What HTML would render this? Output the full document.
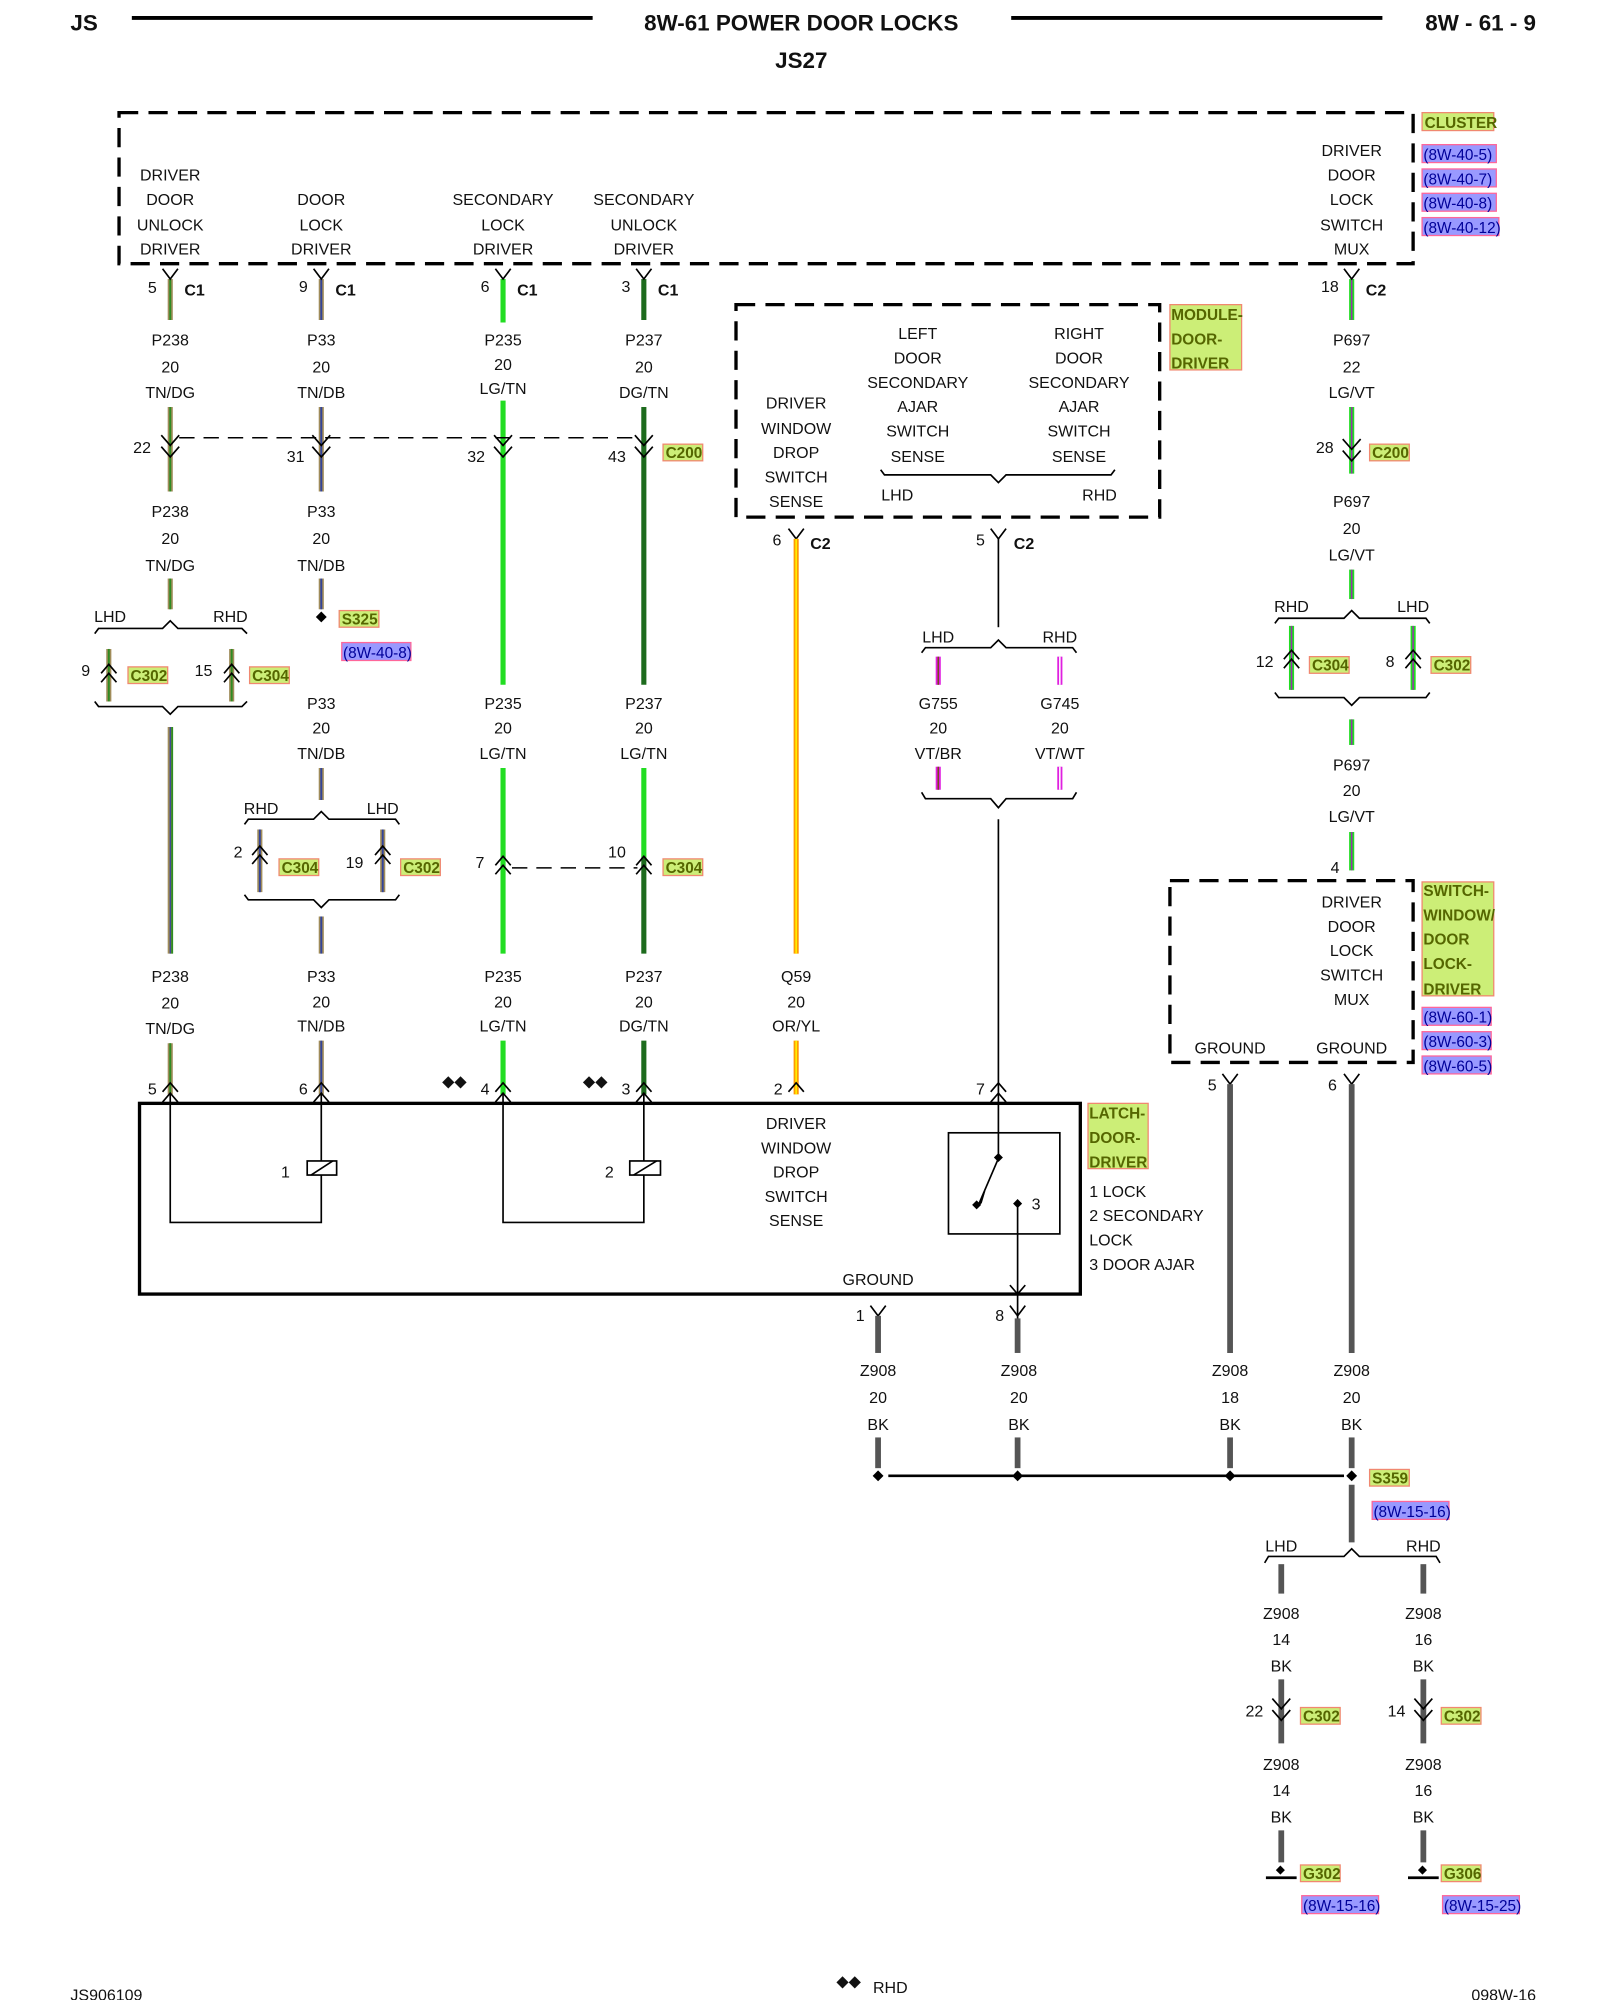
<!DOCTYPE html>
<html><head><meta charset="utf-8"><style>
html,body{margin:0;padding:0;background:#fff}
svg{display:block}
text{font-family:"Liberation Sans",Arial,sans-serif;font-size:12.5px;fill:#111}
.c{text-anchor:middle}
.b{font-weight:bold}
.h{font-size:17.5px;font-weight:bold}
.lg{font-size:12px;font-weight:bold;fill:#556600}
.rf{font-size:12px;fill:#000099}
.k{stroke:#000;fill:none;stroke-width:1.3}
.d{stroke:#000;fill:none;stroke-width:2.6;stroke-dasharray:15 8}
.dl{stroke:#000;fill:none;stroke-width:1.2;stroke-dasharray:12 7}
.tn{stroke:#a08c5a;stroke-width:4}
.gs{stroke:#2e8b22;stroke-width:1.5}
.bs{stroke:#334499;stroke-width:1.5}
.lgw{stroke:#22dd22;stroke-width:4}
.dgw{stroke:#1d6b1d;stroke-width:4}
.or{stroke:#ff9900;stroke-width:4}
.yl{stroke:#ffee00;stroke-width:1.3}
.vt{stroke:#e020e0;stroke-width:4}
.bk{stroke:#555;stroke-width:4.5}
</style></head><body>
<svg width="1600" height="2000" viewBox="0 0 1250 1562.5" xmlns="http://www.w3.org/2000/svg">
<!-- header -->
<text x="55" y="24" class="h">JS</text>
<line x1="103" y1="14" x2="463" y2="14" stroke="#000" stroke-width="3"/>
<text x="626" y="24" class="h c">8W-61 POWER DOOR LOCKS</text>
<line x1="790" y1="14" x2="1080" y2="14" stroke="#000" stroke-width="3"/>
<text x="1200" y="24" class="h" text-anchor="end">8W - 61 - 9</text>
<text x="626" y="53" class="h c">JS27</text>

<!-- cluster -->
<rect x="93" y="88" width="1011" height="118" class="d"/>
<rect x="1111" y="88" width="56" height="14" fill="#ccee77" stroke="#f08870"/><text x="1113" y="100" class="lg">CLUSTER</text>
<g>
<rect x="1111" y="113" width="58" height="14" fill="#9999ff" stroke="#ff6699"/><text x="1112" y="125" class="rf">(8W-40-5)</text>
<rect x="1111" y="132" width="58" height="14" fill="#9999ff" stroke="#ff6699"/><text x="1112" y="144" class="rf">(8W-40-7)</text>
<rect x="1111" y="151" width="58" height="14" fill="#9999ff" stroke="#ff6699"/><text x="1112" y="163" class="rf">(8W-40-8)</text>
<rect x="1111" y="170" width="60" height="14" fill="#9999ff" stroke="#ff6699"/><text x="1112" y="182" class="rf">(8W-40-12)</text>
</g>
<text x="133" y="141" class="c">DRIVER</text><text x="133" y="160" class="c">DOOR</text><text x="133" y="180" class="c">UNLOCK</text><text x="133" y="199" class="c">DRIVER</text>
<text x="251" y="160" class="c">DOOR</text><text x="251" y="180" class="c">LOCK</text><text x="251" y="199" class="c">DRIVER</text>
<text x="393" y="160" class="c">SECONDARY</text><text x="393" y="180" class="c">LOCK</text><text x="393" y="199" class="c">DRIVER</text>
<text x="503" y="160" class="c">SECONDARY</text><text x="503" y="180" class="c">UNLOCK</text><text x="503" y="199" class="c">DRIVER</text>
<text x="1056" y="122" class="c">DRIVER</text><text x="1056" y="141" class="c">DOOR</text><text x="1056" y="160" class="c">LOCK</text><text x="1056" y="180" class="c">SWITCH</text><text x="1056" y="199" class="c">MUX</text>

<!-- C1 connectors -->
<g>
<line x1="133" y1="218" x2="133" y2="250" class="tn"/><line x1="133" y1="218" x2="133" y2="250" class="gs"/>
<line x1="251" y1="218" x2="251" y2="250" class="tn"/><line x1="251" y1="218" x2="251" y2="250" class="bs"/>
<line x1="393" y1="218" x2="393" y2="252" class="lgw"/>
<line x1="503" y1="218" x2="503" y2="250" class="dgw"/>
<line x1="1056" y1="218" x2="1056" y2="250" class="lgw"/><line x1="1056" y1="218" x2="1056" y2="250" stroke="#9933aa" stroke-width="1.2"/>
<polyline points="127,210 133,218 139,210" class="k"/><polyline points="245,210 251,218 257,210" class="k"/>
<polyline points="387,210 393,218 399,210" class="k"/><polyline points="497,210 503,218 509,210" class="k"/>
<polyline points="1050,210 1056,218 1062,210" class="k"/>
<text x="119" y="229" class="c">5</text><text x="152" y="231" class="c b">C1</text>
<text x="237" y="228" class="c">9</text><text x="270" y="231" class="c b">C1</text>
<text x="379" y="228" class="c">6</text><text x="412" y="231" class="c b">C1</text>
<text x="489" y="228" class="c">3</text><text x="522" y="231" class="c b">C1</text>
<text x="1039" y="228" class="c">18</text><text x="1075" y="231" class="c b">C2</text>
</g>
<text x="133" y="270" class="c">P238</text><text x="133" y="291" class="c">20</text><text x="133" y="311" class="c">TN/DG</text>
<text x="251" y="270" class="c">P33</text><text x="251" y="291" class="c">20</text><text x="251" y="311" class="c">TN/DB</text>
<text x="393" y="270" class="c">P235</text><text x="393" y="289" class="c">20</text><text x="393" y="308" class="c">LG/TN</text>
<text x="503" y="270" class="c">P237</text><text x="503" y="291" class="c">20</text><text x="503" y="311" class="c">DG/TN</text>

<!-- C200 -->
<line x1="133" y1="318" x2="133" y2="384" class="tn"/><line x1="133" y1="318" x2="133" y2="384" class="gs"/>
<line x1="251" y1="318" x2="251" y2="384" class="tn"/><line x1="251" y1="318" x2="251" y2="384" class="bs"/>
<line x1="393" y1="313" x2="393" y2="535" class="lgw"/>
<line x1="503" y1="318" x2="503" y2="535" class="dgw"/>
<line x1="140" y1="342" x2="500" y2="342" class="dl"/>
<g class="k">
<polyline points="126,340 133,348 140,340"/><polyline points="126,349 133,357 140,349"/>
<polyline points="244,340 251,348 258,340"/><polyline points="244,349 251,357 258,349"/>
<polyline points="386,340 393,348 400,340"/><polyline points="386,349 393,357 400,349"/>
<polyline points="496,340 503,348 510,340"/><polyline points="496,349 503,357 510,349"/>
</g>
<text x="111" y="354" class="c">22</text><text x="231" y="361" class="c">31</text><text x="372" y="361" class="c">32</text><text x="482" y="361" class="c">43</text>
<rect x="518" y="347" width="31" height="13" fill="#ccee77" stroke="#f08870"/><text x="520" y="358" class="lg">C200</text>
<text x="133" y="404" class="c">P238</text><text x="133" y="425" class="c">20</text><text x="133" y="446" class="c">TN/DG</text>
<text x="251" y="404" class="c">P33</text><text x="251" y="425" class="c">20</text><text x="251" y="446" class="c">TN/DB</text>
<line x1="133" y1="452" x2="133" y2="476" class="tn"/><line x1="133" y1="452" x2="133" y2="476" class="gs"/>
<line x1="251" y1="452" x2="251" y2="476" class="tn"/><line x1="251" y1="452" x2="251" y2="476" class="bs"/>

<!-- col 133 LHD/RHD -->
<text x="86" y="486" class="c">LHD</text><text x="180" y="486" class="c">RHD</text>
<polyline points="74,495 77,491 127,491 133,485 139,491 189,491 193,495" class="k"/>
<line x1="85" y1="507" x2="85" y2="548" class="tn"/><line x1="85" y1="507" x2="85" y2="548" class="gs"/>
<line x1="181" y1="507" x2="181" y2="548" class="tn"/><line x1="181" y1="507" x2="181" y2="548" class="gs"/>
<g class="k"><polyline points="79,526 85,519 91,526"/><polyline points="79,533 85,526 91,533"/>
<polyline points="175,526 181,519 187,526"/><polyline points="175,533 181,526 187,533"/></g>
<text x="67" y="528" class="c">9</text><text x="159" y="528" class="c">15</text>
<rect x="100" y="521" width="31" height="13" fill="#ccee77" stroke="#f08870"/><text x="102" y="532" class="lg">C302</text>
<rect x="195" y="521" width="31" height="13" fill="#ccee77" stroke="#f08870"/><text x="197" y="532" class="lg">C304</text>
<polyline points="74,548 77,552 127,552 133,558 139,552 189,552 193,548" class="k"/>
<line x1="133" y1="568" x2="133" y2="745" class="tn"/><line x1="133" y1="568" x2="133" y2="745" stroke="#334499" stroke-width="1"/><line x1="134.5" y1="568" x2="134.5" y2="745" class="gs" stroke-width="1"/>

<!-- col 251 S325 -->
<rect x="248" y="479" width="6" height="6" transform="rotate(45 251 482)" fill="#000"/>
<rect x="265" y="477" width="31" height="13" fill="#ccee77" stroke="#f08870"/><text x="267" y="488" class="lg">S325</text>
<rect x="267" y="502" width="54" height="14" fill="#9999ff" stroke="#ff6699"/><text x="268" y="514" class="rf">(8W-40-8)</text>
<text x="251" y="554" class="c">P33</text><text x="251" y="573" class="c">20</text><text x="251" y="593" class="c">TN/DB</text>
<line x1="251" y1="600" x2="251" y2="625" class="tn"/><line x1="251" y1="600" x2="251" y2="625" class="bs"/>
<text x="204" y="636" class="c">RHD</text><text x="299" y="636" class="c">LHD</text>
<polyline points="191,644 194,640 245,640 251,634 257,640 309,640 312,644" class="k"/>
<line x1="203" y1="648" x2="203" y2="697" class="tn"/><line x1="203" y1="648" x2="203" y2="697" class="bs"/>
<line x1="299" y1="648" x2="299" y2="697" class="tn"/><line x1="299" y1="648" x2="299" y2="697" class="bs"/>
<g class="k"><polyline points="197,668 203,661 209,668"/><polyline points="197,675 203,668 209,675"/>
<polyline points="293,668 299,661 305,668"/><polyline points="293,675 299,668 305,675"/></g>
<text x="186" y="670" class="c">2</text><text x="277" y="678" class="c">19</text>
<rect x="218" y="671" width="31" height="13" fill="#ccee77" stroke="#f08870"/><text x="220" y="682" class="lg">C304</text>
<rect x="313" y="671" width="31" height="13" fill="#ccee77" stroke="#f08870"/><text x="315" y="682" class="lg">C302</text>
<polyline points="191,699 194,703 245,703 251,709 257,703 309,703 312,699" class="k"/>
<line x1="251" y1="716" x2="251" y2="745" class="tn"/><line x1="251" y1="716" x2="251" y2="745" class="bs"/>

<!-- cols 393/503 middle -->
<text x="393" y="554" class="c">P235</text><text x="393" y="573" class="c">20</text><text x="393" y="593" class="c">LG/TN</text>
<text x="503" y="554" class="c">P237</text><text x="503" y="573" class="c">20</text><text x="503" y="593" class="c">LG/TN</text>
<line x1="393" y1="600" x2="393" y2="745" class="lgw"/>
<line x1="503" y1="600" x2="503" y2="670" class="lgw"/><line x1="503" y1="670" x2="503" y2="745" class="dgw"/>
<line x1="400" y1="678" x2="498" y2="678" class="dl" stroke-dasharray="10 5"/>
<g class="k"><polyline points="387,676 393,669 399,676"/><polyline points="387,683 393,676 399,683"/>
<polyline points="497,676 503,669 509,676"/><polyline points="497,683 503,676 509,683"/></g>
<text x="375" y="678" class="c">7</text><text x="482" y="670" class="c">10</text>
<rect x="518" y="671" width="31" height="13" fill="#ccee77" stroke="#f08870"/><text x="520" y="682" class="lg">C304</text>

<!-- lower wire labels -->
<text x="133" y="767" class="c">P238</text><text x="133" y="788" class="c">20</text><text x="133" y="808" class="c">TN/DG</text>
<text x="251" y="767" class="c">P33</text><text x="251" y="787" class="c">20</text><text x="251" y="806" class="c">TN/DB</text>
<text x="393" y="767" class="c">P235</text><text x="393" y="787" class="c">20</text><text x="393" y="806" class="c">LG/TN</text>
<text x="503" y="767" class="c">P237</text><text x="503" y="787" class="c">20</text><text x="503" y="806" class="c">DG/TN</text>
<text x="622" y="767" class="c">Q59</text><text x="622" y="787" class="c">20</text><text x="622" y="806" class="c">OR/YL</text>
<line x1="133" y1="815" x2="133" y2="855" class="tn"/><line x1="133" y1="815" x2="133" y2="855" class="gs"/>
<line x1="251" y1="813" x2="251" y2="855" class="tn"/><line x1="251" y1="813" x2="251" y2="855" class="bs"/>
<line x1="393" y1="813" x2="393" y2="855" class="lgw"/>
<line x1="503" y1="813" x2="503" y2="855" class="dgw"/>
<line x1="622" y1="813" x2="622" y2="855" class="or"/><line x1="622" y1="813" x2="622" y2="855" class="yl"/>

<!-- module door driver -->
<rect x="575" y="238" width="331" height="166" class="d"/>
<rect x="914" y="238" width="56" height="51" fill="#ccee77" stroke="#f08870"/>
<text x="915" y="250" class="lg">MODULE-</text><text x="915" y="269" class="lg">DOOR-</text><text x="915" y="288" class="lg">DRIVER</text>
<text x="622" y="319" class="c">DRIVER</text><text x="622" y="339" class="c">WINDOW</text><text x="622" y="358" class="c">DROP</text><text x="622" y="377" class="c">SWITCH</text><text x="622" y="396" class="c">SENSE</text>
<text x="717" y="265" class="c">LEFT</text><text x="717" y="284" class="c">DOOR</text><text x="717" y="303" class="c">SECONDARY</text><text x="717" y="322" class="c">AJAR</text><text x="717" y="341" class="c">SWITCH</text><text x="717" y="361" class="c">SENSE</text>
<text x="843" y="265" class="c">RIGHT</text><text x="843" y="284" class="c">DOOR</text><text x="843" y="303" class="c">SECONDARY</text><text x="843" y="322" class="c">AJAR</text><text x="843" y="341" class="c">SWITCH</text><text x="843" y="361" class="c">SENSE</text>
<polyline points="688,367 691,371 774,371 780,377 786,371 868,371 871,367" class="k"/>
<text x="701" y="391" class="c">LHD</text><text x="859" y="391" class="c">RHD</text>
<!-- C2 pins -->
<polyline points="616,413 622,421 628,413" class="k"/><polyline points="774,413 780,421 786,413" class="k"/>
<text x="607" y="426" class="c">6</text><text x="641" y="429" class="c b">C2</text>
<text x="766" y="426" class="c">5</text><text x="800" y="429" class="c b">C2</text>
<line x1="622" y1="421" x2="622" y2="745" class="or"/><line x1="622" y1="421" x2="622" y2="745" class="yl"/>
<line x1="780" y1="421" x2="780" y2="490" class="k"/>
<text x="733" y="502" class="c">LHD</text><text x="828" y="502" class="c">RHD</text>
<polyline points="720,510 723,506 774,506 780,500 786,506 838,506 841,510" class="k"/>
<line x1="733" y1="513" x2="733" y2="535" class="vt"/><line x1="733" y1="513" x2="733" y2="535" stroke="#7a4a20" stroke-width="1.2"/>
<line x1="828" y1="513" x2="828" y2="535" class="vt"/><line x1="828" y1="513" x2="828" y2="535" stroke="#fff" stroke-width="1.2"/>
<text x="733" y="554" class="c">G755</text><text x="733" y="573" class="c">20</text><text x="733" y="593" class="c">VT/BR</text>
<text x="828" y="554" class="c">G745</text><text x="828" y="573" class="c">20</text><text x="828" y="593" class="c">VT/WT</text>
<line x1="733" y1="599" x2="733" y2="617" class="vt"/><line x1="733" y1="599" x2="733" y2="617" stroke="#7a4a20" stroke-width="1.2"/>
<line x1="828" y1="599" x2="828" y2="617" class="vt"/><line x1="828" y1="599" x2="828" y2="617" stroke="#fff" stroke-width="1.2"/>
<polyline points="720,619 723,624 774,624 780,631 786,624 838,624 841,619" class="k"/>
<line x1="780" y1="640" x2="780" y2="885" class="k"/>

<!-- P697 column -->
<text x="1056" y="270" class="c">P697</text><text x="1056" y="291" class="c">22</text><text x="1056" y="311" class="c">LG/VT</text>
<line x1="1056" y1="318" x2="1056" y2="370" class="lgw"/><line x1="1056" y1="318" x2="1056" y2="370" stroke="#9933aa" stroke-width="1.2"/>
<g class="k"><polyline points="1049,343 1056,351 1063,343"/><polyline points="1049,352 1056,360 1063,352"/></g>
<text x="1035" y="354" class="c">28</text>
<rect x="1070" y="347" width="31" height="13" fill="#ccee77" stroke="#f08870"/><text x="1072" y="358" class="lg">C200</text>
<text x="1056" y="396" class="c">P697</text><text x="1056" y="417" class="c">20</text><text x="1056" y="438" class="c">LG/VT</text>
<line x1="1056" y1="445" x2="1056" y2="468" class="lgw"/><line x1="1056" y1="445" x2="1056" y2="468" stroke="#9933aa" stroke-width="1.2"/>
<text x="1009" y="478" class="c">RHD</text><text x="1104" y="478" class="c">LHD</text>
<polyline points="996,487 999,483 1050,483 1056,477 1062,483 1114,483 1117,487" class="k"/>
<line x1="1009" y1="489" x2="1009" y2="539" class="lgw"/><line x1="1009" y1="489" x2="1009" y2="539" stroke="#9933aa" stroke-width="1.2"/>
<line x1="1104" y1="489" x2="1104" y2="539" class="lgw"/><line x1="1104" y1="489" x2="1104" y2="539" stroke="#9933aa" stroke-width="1.2"/>
<g class="k"><polyline points="1003,515 1009,508 1015,515"/><polyline points="1003,522 1009,515 1015,522"/>
<polyline points="1098,515 1104,508 1110,515"/><polyline points="1098,522 1104,515 1110,522"/></g>
<text x="988" y="521" class="c">12</text><text x="1086" y="521" class="c">8</text>
<rect x="1023" y="513" width="31" height="13" fill="#ccee77" stroke="#f08870"/><text x="1025" y="524" class="lg">C304</text>
<rect x="1118" y="513" width="31" height="13" fill="#ccee77" stroke="#f08870"/><text x="1120" y="524" class="lg">C302</text>
<polyline points="996,541 999,545 1050,545 1056,551 1062,545 1114,545 1117,541" class="k"/>
<line x1="1056" y1="562" x2="1056" y2="582" class="lgw"/><line x1="1056" y1="562" x2="1056" y2="582" stroke="#9933aa" stroke-width="1.2"/>
<text x="1056" y="602" class="c">P697</text><text x="1056" y="622" class="c">20</text><text x="1056" y="642" class="c">LG/VT</text>
<line x1="1056" y1="650" x2="1056" y2="680" class="lgw"/><line x1="1056" y1="650" x2="1056" y2="680" stroke="#9933aa" stroke-width="1.2"/>
<text x="1043" y="682" class="c">4</text>

<!-- switch window box -->
<rect x="914" y="688" width="190" height="142" class="d"/>
<rect x="1111" y="689" width="56" height="89" fill="#ccee77" stroke="#f08870"/>
<text x="1112" y="700" class="lg">SWITCH-</text><text x="1112" y="719" class="lg">WINDOW/</text><text x="1112" y="738" class="lg">DOOR</text><text x="1112" y="757" class="lg">LOCK-</text><text x="1112" y="777" class="lg">DRIVER</text>
<rect x="1111" y="787" width="54" height="14" fill="#9999ff" stroke="#ff6699"/><text x="1112" y="799" class="rf">(8W-60-1)</text>
<rect x="1111" y="806" width="54" height="14" fill="#9999ff" stroke="#ff6699"/><text x="1112" y="818" class="rf">(8W-60-3)</text>
<rect x="1111" y="825" width="54" height="14" fill="#9999ff" stroke="#ff6699"/><text x="1112" y="837" class="rf">(8W-60-5)</text>
<text x="1056" y="709" class="c">DRIVER</text><text x="1056" y="728" class="c">DOOR</text><text x="1056" y="747" class="c">LOCK</text><text x="1056" y="766" class="c">SWITCH</text><text x="1056" y="785" class="c">MUX</text>
<text x="961" y="823" class="c">GROUND</text><text x="1056" y="823" class="c">GROUND</text>
<polyline points="955,839 961,847 967,839" class="k"/><polyline points="1050,839 1056,847 1062,839" class="k"/>
<text x="947" y="852" class="c">5</text><text x="1041" y="852" class="c">6</text>
<line x1="961" y1="847" x2="961" y2="1057" class="bk"/><line x1="1056" y1="847" x2="1056" y2="1057" class="bk"/>

<!-- latch box -->
<rect x="109" y="862" width="735" height="149" fill="none" stroke="#000" stroke-width="2.6"/>
<rect x="850" y="862" width="47" height="51" fill="#ccee77" stroke="#f08870"/>
<text x="851" y="874" class="lg">LATCH-</text><text x="851" y="893" class="lg">DOOR-</text><text x="851" y="912" class="lg">DRIVER</text>
<text x="851" y="935">1 LOCK</text><text x="851" y="954">2 SECONDARY</text><text x="851" y="973">LOCK</text><text x="851" y="992">3 DOOR AJAR</text>
<g class="k">
<polyline points="127,853 133,846 139,853"/><polyline points="127,861 133,854 139,861"/>
<polyline points="245,853 251,846 257,853"/><polyline points="245,861 251,854 257,861"/>
<polyline points="387,853 393,846 399,853"/><polyline points="387,861 393,854 399,861"/>
<polyline points="497,853 503,846 509,853"/><polyline points="497,861 503,854 509,861"/>
<polyline points="616,853 622,846 628,853"/>
<polyline points="774,853 780,846 786,853"/><polyline points="774,861 780,854 786,861"/>
<polyline points="133,854 133,955 251,955 251,918"/>
<line x1="251" y1="854" x2="251" y2="907"/>
<rect x="240" y="907" width="23" height="11"/><line x1="243" y1="918" x2="260" y2="907"/>
<polyline points="393,854 393,955 503,955 503,918"/>
<line x1="503" y1="854" x2="503" y2="907"/>
<rect x="492" y="907" width="24" height="11"/><line x1="495" y1="918" x2="513" y2="907"/>
<rect x="741" y="885" width="87" height="79"/>
<line x1="780" y1="885" x2="780" y2="905"/>
<line x1="780" y1="905" x2="765" y2="940"/>
<line x1="795" y1="941" x2="795" y2="1011"/>
<line x1="795" y1="1011" x2="795" y2="1040"/>
<polyline points="789,1004 795,1011 801,1004"/>
</g>
<polygon points="763,943 770,930 767,940" fill="#000"/>
<rect x="777" y="902" width="5" height="5" transform="rotate(45 780 905)" fill="#000"/>
<rect x="760" y="939" width="5" height="5" transform="rotate(45 763 942)" fill="#000"/>
<rect x="792" y="938" width="5" height="5" transform="rotate(45 795 941)" fill="#000"/>
<text x="806" y="945">3</text>
<text x="223" y="920" class="c">1</text><text x="476" y="920" class="c">2</text>
<text x="622" y="882" class="c">DRIVER</text><text x="622" y="901" class="c">WINDOW</text><text x="622" y="920" class="c">DROP</text><text x="622" y="939" class="c">SWITCH</text><text x="622" y="958" class="c">SENSE</text>
<text x="686" y="1004" class="c">GROUND</text>
<text x="119" y="855" class="c">5</text><text x="237" y="855" class="c">6</text><text x="379" y="855" class="c">4</text><text x="489" y="855" class="c">3</text><text x="608" y="855" class="c">2</text><text x="766" y="855" class="c">7</text>
<text x="355" y="849" class="c" font-size="10">◆◆</text><text x="465" y="849" class="c" font-size="10">◆◆</text>

<!-- grounds -->
<polyline points="680,1020 686,1028 692,1020" class="k"/><polyline points="789,1020 795,1028 801,1020" class="k"/>
<text x="672" y="1032" class="c">1</text><text x="781" y="1032" class="c">8</text>
<line x1="686" y1="1028" x2="686" y2="1057" class="bk"/><line x1="795" y1="1030" x2="795" y2="1057" class="bk"/>
<text x="686" y="1075" class="c">Z908</text><text x="686" y="1096" class="c">20</text><text x="686" y="1117" class="c">BK</text>
<text x="796" y="1075" class="c">Z908</text><text x="796" y="1096" class="c">20</text><text x="796" y="1117" class="c">BK</text>
<text x="961" y="1075" class="c">Z908</text><text x="961" y="1096" class="c">18</text><text x="961" y="1117" class="c">BK</text>
<text x="1056" y="1075" class="c">Z908</text><text x="1056" y="1096" class="c">20</text><text x="1056" y="1117" class="c">BK</text>
<line x1="686" y1="1123" x2="686" y2="1147" class="bk"/><line x1="795" y1="1123" x2="795" y2="1147" class="bk"/>
<line x1="961" y1="1123" x2="961" y2="1147" class="bk"/><line x1="1056" y1="1123" x2="1056" y2="1147" class="bk"/>
<line x1="694" y1="1153" x2="1050" y2="1153" stroke="#000" stroke-width="2"/>
<g fill="#000">
<rect x="683" y="1150" width="6" height="6" transform="rotate(45 686 1153)"/>
<rect x="792" y="1150" width="6" height="6" transform="rotate(45 795 1153)"/>
<rect x="958" y="1150" width="6" height="6" transform="rotate(45 961 1153)"/>
<rect x="1053" y="1150" width="6" height="6" transform="rotate(45 1056 1153)"/>
</g>
<rect x="1070" y="1148" width="31" height="13" fill="#ccee77" stroke="#f08870"/><text x="1072" y="1159" class="lg">S359</text>
<rect x="1072" y="1173" width="60" height="14" fill="#9999ff" stroke="#ff6699"/><text x="1073" y="1185" class="rf">(8W-15-16)</text>
<line x1="1056" y1="1160" x2="1056" y2="1205" class="bk"/>
<text x="1001" y="1212" class="c">LHD</text><text x="1112" y="1212" class="c">RHD</text>
<polyline points="988,1221 991,1216 1050,1216 1056,1210 1062,1216 1122,1216 1125,1221" class="k"/>
<line x1="1001" y1="1222" x2="1001" y2="1245" class="bk"/><line x1="1112" y1="1222" x2="1112" y2="1245" class="bk"/>
<text x="1001" y="1265" class="c">Z908</text><text x="1001" y="1285" class="c">14</text><text x="1001" y="1306" class="c">BK</text>
<text x="1112" y="1265" class="c">Z908</text><text x="1112" y="1285" class="c">16</text><text x="1112" y="1306" class="c">BK</text>
<line x1="1001" y1="1312" x2="1001" y2="1362" class="bk"/><line x1="1112" y1="1312" x2="1112" y2="1362" class="bk"/>
<g class="k"><polyline points="994,1327 1001,1335 1008,1327"/><polyline points="994,1336 1001,1344 1008,1336"/>
<polyline points="1105,1327 1112,1335 1119,1327"/><polyline points="1105,1336 1112,1344 1119,1336"/></g>
<text x="980" y="1341" class="c">22</text><text x="1091" y="1341" class="c">14</text>
<rect x="1016" y="1334" width="31" height="13" fill="#ccee77" stroke="#f08870"/><text x="1018" y="1345" class="lg">C302</text>
<rect x="1126" y="1334" width="31" height="13" fill="#ccee77" stroke="#f08870"/><text x="1128" y="1345" class="lg">C302</text>
<text x="1001" y="1383" class="c">Z908</text><text x="1001" y="1403" class="c">14</text><text x="1001" y="1424" class="c">BK</text>
<text x="1112" y="1383" class="c">Z908</text><text x="1112" y="1403" class="c">16</text><text x="1112" y="1424" class="c">BK</text>
<line x1="1001" y1="1430" x2="1001" y2="1455" class="bk"/><line x1="1112" y1="1430" x2="1112" y2="1455" class="bk"/>
<g fill="#000">
<rect x="998" y="1459" width="5" height="5" transform="rotate(45 1001 1461)"/>
<rect x="1109" y="1459" width="5" height="5" transform="rotate(45 1112 1461)"/>
</g>
<line x1="989" y1="1467" x2="1013" y2="1467" stroke="#000" stroke-width="2.2"/>
<line x1="1100" y1="1467" x2="1124" y2="1467" stroke="#000" stroke-width="2.2"/>
<rect x="1016" y="1457" width="31" height="13" fill="#ccee77" stroke="#f08870"/><text x="1018" y="1468" class="lg">G302</text>
<rect x="1126" y="1457" width="31" height="13" fill="#ccee77" stroke="#f08870"/><text x="1128" y="1468" class="lg">G306</text>
<rect x="1017" y="1481" width="60" height="14" fill="#9999ff" stroke="#ff6699"/><text x="1018" y="1493" class="rf">(8W-15-16)</text>
<rect x="1127" y="1481" width="60" height="14" fill="#9999ff" stroke="#ff6699"/><text x="1128" y="1493" class="rf">(8W-15-25)</text>

<!-- footer -->
<text x="55" y="1563" font-size="11">JS906109</text>
<text x="663" y="1552" class="c" font-size="9">◆◆</text><text x="682" y="1557" font-size="11">RHD</text>
<text x="1200" y="1563" font-size="11" text-anchor="end">098W-16</text>
</svg>
</body></html>
